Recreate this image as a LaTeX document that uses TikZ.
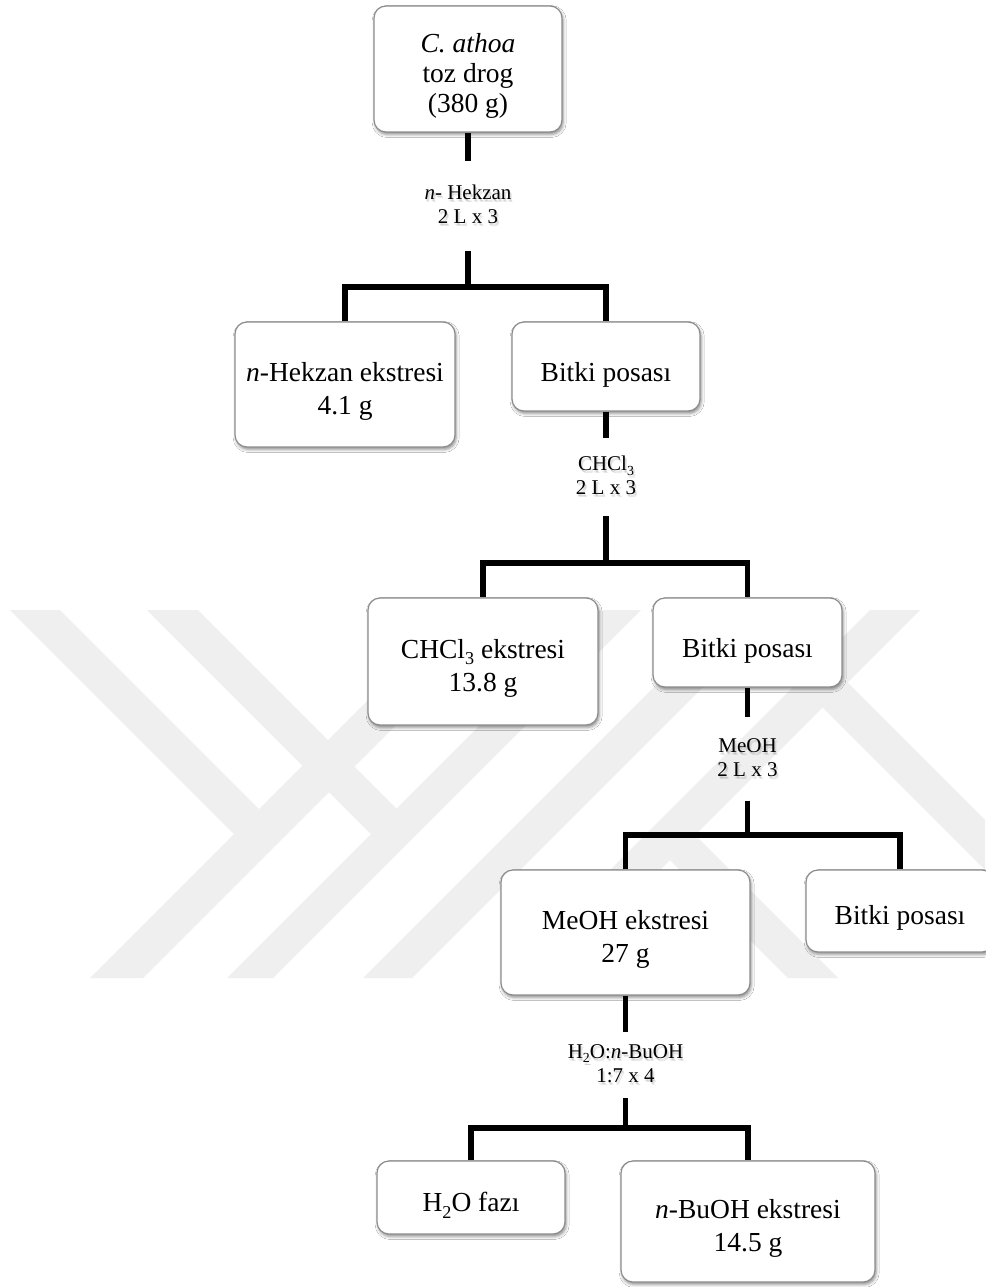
\documentclass[tikz,border=0pt]{standalone}
\usepackage{fontspec}
\usepackage{graphicx}
\setmainfont{Liberation Serif}
\usetikzlibrary{shadows.blur}

\definecolor{wmark}{HTML}{EFEFEF}
\definecolor{boxline}{HTML}{8C8C8C}

% chemical subscript: smaller digits set below the baseline
\newcommand\chsub[1]{\raisebox{-0.22em}{\scalebox{0.66}{#1}}}
% invisible strut that sets how far the first line sits from the top
\newcommand\lift[1]{\rule{0pt}{#1}}

% soft shadow under a line of label text
\newcommand\glowline[1]{%
  \leavevmode
  \rlap{\pgfsetfillopacity{0.10}\kern0.8pt\raisebox{-2.2pt}{#1}}%
  \rlap{\kern2.0pt\raisebox{-3.0pt}{#1}\pgfsetfillopacity{1}}%
  #1}

\tikzset{
  box/.style={draw=boxline, line width=1.2pt, fill=white, rounded corners=12pt,
    align=center, inner sep=0pt,
    blur shadow={shadow xshift=1.2pt, shadow yshift=-2.5pt,
                 shadow blur radius=3pt, shadow opacity=45},
    font=\fontsize{27.5}{33}\selectfont},
  lab/.style={align=center, inner sep=0pt, font=\fontsize{21}{24}\selectfont},
  conn/.style={line width=5.5pt, line cap=butt, line join=miter},
  band/.style={fill=wmark, draw=none}
}

\begin{document}
\begin{tikzpicture}[x=1pt, y=-1pt]
  \fill[white] (0,0) rectangle (985,1287);
  \useasboundingbox (0,0) rectangle (985,1287);

  % faint background mark made of diagonal bands
  \begin{scope}
    \clip (0,610) rectangle (985,978);
    \fill[band] (10,610) -- (60,610) -- (259,809) -- (234,834) -- cycle;
    \fill[band] (458,610) -- (511,610) -- (143,978) -- (90,978) -- cycle;
    \fill[band] (147,610) -- (198,610) -- (396.5,808.5) -- (371,834) -- cycle;
    \fill[band] (595,610) -- (641,610) -- (273,978) -- (227,978) -- cycle;
    \fill[band] (731,610) -- (780,610) -- (412,978) -- (363,978) -- cycle;
    \fill[band] (870,610) -- (920,610) -- (552,978) -- (502,978) -- cycle;
    \fill[band] (725,610) -- (775,610) -- (1143,978) -- (1093,978) -- cycle;
    \fill[band] (670,860) -- (695,835) -- (838,978) -- (788,978) -- cycle;
  \end{scope}

  % boxes
  \node[box, minimum width=188pt, minimum height=126pt,
        font=\fontsize{27.5}{30}\selectfont] (drog) at (468,69)
    {\lift{33pt}\textit{C. athoa}\\toz drog\\(380 g)};
  \node[box, minimum width=220pt, minimum height=125pt] (hex) at (345,384.5)
    {\lift{33pt}\textit{n}-Hekzan ekstresi\\4.1 g};
  \node[box, minimum width=188pt, minimum height=89pt] (bp1) at (606,366.5)
    {\lift{35pt}Bitki posası};
  \node[box, minimum width=230pt, minimum height=127pt] (chl) at (483,661.5)
    {\lift{32pt}CHCl\chsub{3} ekstresi\\13.8 g};
  \node[box, minimum width=189pt, minimum height=89pt] (bp2) at (747.5,642.5)
    {\lift{35pt}Bitki posası};
  \node[box, minimum width=249pt, minimum height=125pt] (meo) at (625.5,932.5)
    {\lift{33pt}MeOH ekstresi\\27 g};
  \node[box, minimum width=188pt, minimum height=82pt] (bp3) at (900,911)
    {\lift{33pt}Bitki posası};
  \node[box, minimum width=188pt, minimum height=73pt] (wat) at (471,1197.5)
    {\lift{35pt}H\chsub{2}O fazı};
  \node[box, minimum width=254pt, minimum height=121pt] (but) at (748,1221.5)
    {\lift{33pt}\textit{n}-BuOH ekstresi\\14.5 g};

  % solvent labels
  \node[lab, minimum height=90pt] (s1) at (468,206)
    {\glowline{\textit{n}- Hekzan}\\\glowline{2 L x 3}};
  \node[lab, minimum height=78pt] (s2) at (606,477)
    {\glowline{CHCl\chsub{3}}\\\glowline{2 L x 3}};
  \node[lab, minimum height=83pt] (s3) at (747.5,759)
    {\glowline{MeOH}\\\glowline{2 L x 3}};
  \node[lab, minimum height=66pt] (s4) at (625.5,1065)
    {\glowline{H\chsub{2}O:\textit{n}-BuOH}\\\glowline{1:7 x 4}};

  % branch points
  \coordinate (j1) at (468,287);
  \coordinate (j2) at (606,563);
  \coordinate (j3) at (747.5,835);
  \coordinate (j4) at (625.5,1128);

  % connectors
  \draw[conn] (drog.south) -- (s1.north);
  \draw[conn] (s1.south) -- (j1);
  \draw[conn] (hex.north) -- (hex.north |- j1) -- (bp1.north |- j1) -- (bp1.north);

  \draw[conn] (bp1.south) -- (s2.north);
  \draw[conn] (s2.south) -- (j2);
  \draw[conn] (chl.north) -- (chl.north |- j2) -- (bp2.north |- j2) -- (bp2.north);

  \draw[conn] (bp2.south) -- (s3.north);
  \draw[conn] (s3.south) -- (j3);
  \draw[conn] (meo.north) -- (meo.north |- j3) -- (bp3.north |- j3) -- (bp3.north);

  \draw[conn] (meo.south) -- (s4.north);
  \draw[conn] (s4.south) -- (j4);
  \draw[conn] (wat.north) -- (wat.north |- j4) -- (but.north |- j4) -- (but.north);
\end{tikzpicture}
\end{document}
